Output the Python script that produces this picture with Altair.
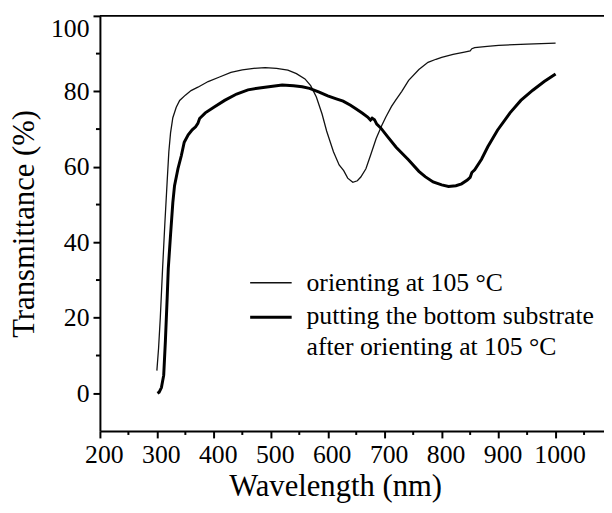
import altair as alt
import pandas as pd

# Series 1: orienting at 105 °C (thin line)
wl_orient = [300, 303, 306, 310, 314, 318, 321, 324, 328, 334, 340, 350, 360, 372, 390, 410, 430, 450,
             470, 490, 510, 530, 545, 560, 570, 580, 590, 598, 610, 620, 628, 635, 644, 652, 658, 667,
             675, 685, 695, 702, 712, 719, 730, 742, 760, 776, 790, 800, 820, 840, 850, 853, 858, 880,
             900, 950, 1000]
tr_orient = [6, 12, 20, 33, 45, 56, 64, 69, 73, 75.8, 77.6, 79, 80.2, 81.1, 82.6, 83.8, 85, 85.7,
             86.1, 86.3, 86.1, 85.6, 84.7, 83.3, 81.5, 78.5, 74, 69.5, 64, 60.5, 59, 57, 55.9, 56.3, 57.3, 59.5,
             63, 67.5, 71, 73.2, 76, 77.6, 80, 82.9, 85.8, 87.7, 88.5, 89, 89.8, 90.4, 90.7, 91.3, 91.6, 91.9,
             92.2, 92.5, 92.8]

# Series 2: putting the bottom substrate after orienting at 105 °C (thick line)
wl_bottom = [301, 304, 308, 312, 315, 318, 320, 324, 328, 331, 337, 343, 348, 355, 362, 368, 372, 375,
             385, 400, 419, 440, 460, 480, 500, 520, 540, 555, 568, 585, 600, 615, 627, 640, 650, 661,
             670, 675, 678, 682, 686, 693, 705, 720, 742, 760, 771, 785, 800, 812, 825, 835, 845, 850,
             853, 858, 870, 881, 898, 920, 939, 960, 980, 1000]
tr_bottom = [0, 0.3, 1.5, 4.8, 14, 25, 33, 42, 50.5, 55, 59.5, 63, 66.5, 68.5, 69.8, 70.6, 71.5, 72.8,
             74.3, 75.8, 77.6, 79.3, 80.4, 80.9, 81.3, 81.7, 81.5, 81.2, 80.8, 79.8, 78.8, 78, 77.4, 76.3, 75.3, 74.2,
             73.2, 72.4, 72.9, 72.5, 71.3, 70.3, 68, 65.2, 61.8, 58.8, 57.4, 56, 55.2, 54.8, 55, 55.5, 56.5, 57.2,
             58.5, 59.2, 62, 65.3, 69.7, 74.3, 77.6, 80.3, 82.6, 84.6]

x_major = list(range(200, 1001, 100))
x_minor = list(range(250, 1051, 100))
y_major = list(range(0, 101, 20))
y_minor = list(range(10, 91, 20))

legend_labels = ["orienting at 105 °C", "putting the bottom substrate", "after orienting at 105 °C"]

df1 = pd.DataFrame({"wl": wl_orient, "T": tr_orient})
df2 = pd.DataFrame({"wl": wl_bottom, "T": tr_bottom})

FONT = "Liberation Serif"
W, H = 510, 420

xscale = alt.Scale(domain=[200, 1085], nice=False, zero=False)
yscale = alt.Scale(domain=[-10, 100], nice=False, zero=False)

xaxis = alt.Axis(
    values=x_major, format="d", title="Wavelength (nm)", tickSize=7,
    labelFont=FONT, labelFontSize=26, labelColor="black", labelPadding=4, labelOffset=4,
    titleFont=FONT, titleFontSize=31, titleFontWeight="normal", titleColor="black",
    titlePadding=4, titleX=238,
    domainColor="black", domainWidth=2, tickColor="black", tickWidth=2, grid=False,
    labelFlush=False, labelOverlap=False,
)
yaxis = alt.Axis(
    values=y_major, format="d", title="Transmittance (%)", tickSize=7,
    labelFont=FONT, labelFontSize=26, labelColor="black", labelPadding=4,
    titleFont=FONT, titleFontSize=31, titleFontWeight="normal", titleColor="black",
    titlePadding=10,
    domainColor="black", domainWidth=2, tickColor="black", tickWidth=2, grid=False,
    labelFlush=True, labelOverlap=False,
)

thin = alt.Chart(df1).mark_line(color="#111111", strokeWidth=1.3).encode(
    x=alt.X("wl:Q", scale=xscale, axis=xaxis),
    y=alt.Y("T:Q", scale=yscale, axis=yaxis),
)
thick = alt.Chart(df2).mark_line(color="black", strokeWidth=3).encode(
    x=alt.X("wl:Q", scale=xscale),
    y=alt.Y("T:Q", scale=yscale),
)

# minor ticks (outward, shorter than the major ones)
x_minor_ticks = alt.Chart(pd.DataFrame({"v": x_minor})).mark_rule(color="black", strokeWidth=2).encode(
    x=alt.X("v:Q", scale=xscale), y=alt.value(H), y2=alt.value(H + 4)
)
y_minor_ticks = alt.Chart(pd.DataFrame({"v": y_minor})).mark_rule(color="black", strokeWidth=2).encode(
    y=alt.Y("v:Q", scale=yscale), x=alt.value(-4), x2=alt.value(0)
)

top_rule = alt.Chart(pd.DataFrame({"v": [100]})).mark_rule(color="black", strokeWidth=2).encode(
    y=alt.Y("v:Q", scale=yscale), x=alt.value(0), x2=alt.value(W)
)

leg_line1 = alt.Chart(pd.DataFrame({"a": [0]})).mark_rule(color="#111111", strokeWidth=1.3).encode(
    x=alt.value(152), x2=alt.value(194), y=alt.value(270)
)
leg_line2 = alt.Chart(pd.DataFrame({"a": [0]})).mark_rule(color="black", strokeWidth=3).encode(
    x=alt.value(152), x2=alt.value(194), y=alt.value(305)
)
leg_texts = []
for lbl, yy in zip(legend_labels, [270, 304, 335]):
    leg_texts.append(
        alt.Chart(pd.DataFrame({"a": [0]})).mark_text(
            align="left", baseline="middle", font=FONT, fontSize=26, color="black"
        ).encode(x=alt.value(209), y=alt.value(yy), text=alt.value(lbl))
    )

chart = alt.layer(top_rule, thin, thick, x_minor_ticks, y_minor_ticks,
                  leg_line1, leg_line2, *leg_texts).properties(
    width=W, height=H,
    autosize=alt.AutoSizeParams(type="none"),
    padding={"left": 93, "top": 5, "right": 0, "bottom": 80},
).configure_view(stroke=None)

chart.save("out.html", embed_options={"renderer": "svg", "actions": False})
